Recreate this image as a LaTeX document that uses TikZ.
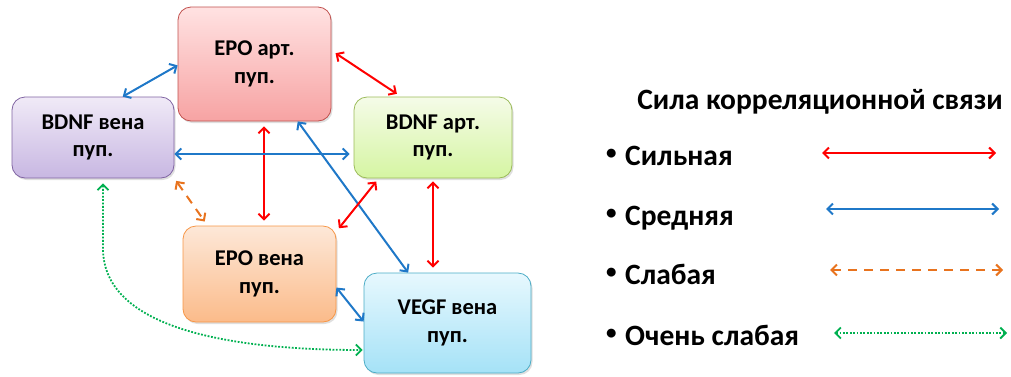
\documentclass[tikz,border=0pt]{standalone}
\usepackage{fontspec}
\setmainfont{Carlito}
\usetikzlibrary{arrows.meta,calc,shadows}
\definecolor{epoline}{HTML}{C0504D}
\definecolor{epotop}{HTML}{FFE2E2}
\definecolor{epobot}{HTML}{F7A3A3}
\definecolor{bvline}{HTML}{8064A2}
\definecolor{bvtop}{HTML}{F0EAF7}
\definecolor{bvbot}{HTML}{C8B7E2}
\definecolor{baline}{HTML}{9BBB59}
\definecolor{batop}{HTML}{F5FBE8}
\definecolor{babot}{HTML}{D5F5A2}
\definecolor{evline}{HTML}{F79646}
\definecolor{evtop}{HTML}{FDE8D8}
\definecolor{evbot}{HTML}{FBBB8A}
\definecolor{vgline}{HTML}{4BACC6}
\definecolor{vgtop}{HTML}{E7F8FE}
\definecolor{vgbot}{HTML}{A5E2F7}
\definecolor{medblue}{HTML}{1F78C8}
\definecolor{weakorange}{HTML}{E8731E}
\definecolor{vweakgreen}{HTML}{00B050}
\newcommand{\legbullet}{\makebox[19pt][l]{\raisebox{6pt}{\fontsize{21}{21}\selectfont•}}}

\begin{document}
\begin{tikzpicture}[x=1pt,y=-1pt,
  box/.style={draw,rounded corners=13pt,line width=0.8pt,align=center,
    font=\fontsize{22.5}{27.5}\selectfont\bfseries,
    drop shadow={opacity=0.25,shadow xshift=1.5pt,shadow yshift=-2pt}},
  link/.style={line width=2pt,{Straight Barb[length=5.5pt,width=11pt]}-{Straight Barb[length=5.5pt,width=11pt]}},
  strong/.style={link,red},
  medium/.style={link,medblue},
  weak/.style={link,weakorange,dash pattern=on 9pt off 7pt},
  vweak/.style={link,line width=1.8pt,vweakgreen,dash pattern=on 1.8pt off 1.6pt},
  legend/.style={anchor=base west,inner sep=0pt,font=\fontsize{29.5}{32}\selectfont\bfseries}]
  \useasboundingbox (0,0) rectangle (1011,376);
  \node[box,draw=epoline,top color=epotop,bottom color=epobot,minimum width=153pt,minimum height=114pt] (epoart) at (254.5,64) {EPO арт.\\пуп.};
  \node[box,draw=bvline,top color=bvtop,bottom color=bvbot,minimum width=162pt,minimum height=81pt] (bdnfven) at (93,137.5) {BDNF вена\\пуп.};
  \node[box,draw=baline,top color=batop,bottom color=babot,minimum width=158pt,minimum height=81pt] (bdnfart) at (433,137.5) {BDNF арт.\\пуп.};
  \node[box,draw=evline,top color=evtop,bottom color=evbot,minimum width=153pt,minimum height=96pt] (epoven) at (259.5,274) {EPO вена\\пуп.};
  \node[box,draw=vgline,top color=vgtop,bottom color=vgbot,minimum width=167pt,minimum height=100pt] (vegfven) at (447.5,323) {VEGF вена\\пуп.};
  \coordinate (vtop) at ($(epoart.south)+(9.5,0)$);
  \draw[medium] (bdnfven.54) -- (epoart.181);
  \draw[strong,shorten <=5pt,shorten >=5pt] (epoart.10) -- (bdnfart.128);
  \draw[strong,shorten <=5pt,shorten >=5pt] (vtop) -- (vtop |- epoven.north);
  \draw[medium,shorten >=4pt] ([yshift=-16.5pt]bdnfven.east) -- ([yshift=-16.5pt]bdnfart.west);
  \draw[medium] (epoart.-53) -- (vegfven.128);
  \draw[strong,shorten <=4pt,shorten >=4pt] (bdnfart.-143) -- (epoven.29);
  \draw[strong,shorten <=3pt,shorten >=5pt] (bdnfart.south) -- (bdnfart.south |- vegfven.north);
  \draw[medium] (epoven.-10) -- (vegfven.179);
  \draw[weak,shorten <=3pt,shorten >=5pt] (bdnfven.south east) -- (epoven.137);
  \draw[vweak] ([xshift=10pt,yshift=-5pt]bdnfven.south) -- ++(0,65) .. controls +(0,80) and +(-133,0) .. ([xshift=-1pt,yshift=-27pt]vegfven.west);
  \node[font=\fontsize{29.5}{32}\selectfont\bfseries] (title) at (820,102) {Сила корреляционной связи};
  \node[legend] (lstrong) at (606,165) {\legbullet Сильная};
  \node[legend] (lmedium) at (606,225) {\legbullet Средняя};
  \node[legend] (lweak) at (606,284) {\legbullet Слабая};
  \node[legend] (lvweak) at (606,345) {\legbullet Очень слабая};
  \coordinate (s1) at (822,153); \coordinate (e1) at (996,153);
  \coordinate (s2) at (826,209); \coordinate (e2) at (999,209);
  \coordinate (s3) at (830,270); \coordinate (e3) at (1003,270);
  \coordinate (s4) at (834,333); \coordinate (e4) at (1007,333);
  \draw[strong] (s1) -- (e1);
  \draw[medium] (s2) -- (e2);
  \draw[weak] (s3) -- (e3);
  \draw[vweak] (s4) -- (e4);
\end{tikzpicture}
\end{document}
